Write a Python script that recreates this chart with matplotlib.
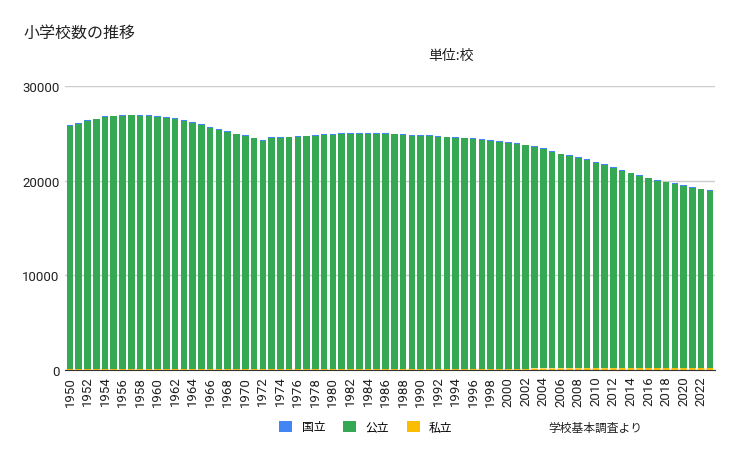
import numpy as np
import matplotlib
matplotlib.use('Agg')
import matplotlib.pyplot as plt

plt.rcParams['font.family'] = ['Noto Sans CJK JP', 'DejaVu Sans']

years = list(range(1950, 2024))
total = [25878, 26056, 26377, 26555, 26804, 26880, 26957, 26988, 26964, 26916,
         26858, 26741, 26615, 26423, 26210, 25977, 25687, 25487, 25262, 24980,
         24790, 24540, 24325, 24592, 24606, 24650, 24717, 24777, 24828, 24899,
         24945, 25005, 25043, 25045, 25064, 25040, 25020, 24982, 24901, 24851,
         24827, 24798, 24730, 24676, 24635, 24548, 24482, 24376, 24295, 24188,
         24106, 23964, 23808, 23633, 23420, 23123, 22878, 22693, 22476, 22258,
         22000, 21721, 21460, 21131, 20852, 20601, 20313, 20095, 19892, 19738,
         19525, 19336, 19161, 18980]
kokuritsu = [56, 60, 64, 68, 70, 71, 71, 71, 72, 72,
             72, 72, 72, 72, 72, 72, 72, 72, 72, 72,
             73, 73, 73, 73, 73, 73, 73, 73, 73, 73,
             73, 73, 73, 73, 73, 73, 73, 73, 73, 73,
             73, 73, 73, 73, 73, 73, 73, 73, 73, 73,
             73, 73, 73, 73, 73, 73, 73, 73, 73, 74,
             74, 74, 74, 74, 72, 72, 70, 70, 70, 69,
             69, 68, 68, 67]
shiritsu = [126, 128, 131, 133, 134, 135, 137, 139, 141, 143,
            145, 146, 146, 145, 143, 142, 141, 140, 139, 138,
            136, 136, 137, 154, 156, 158, 160, 161, 163, 165,
            168, 168, 168, 168, 169, 169, 170, 170, 170, 170,
            170, 170, 171, 171, 171, 171, 172, 172, 172, 172,
            172, 173, 175, 178, 181, 187, 194, 201, 206, 210,
            213, 213, 216, 220, 222, 222, 230, 231, 231, 237,
            237, 240, 243, 244]
kouritsu = [t - k - s for t, k, s in zip(total, kokuritsu, shiritsu)]

c_koku = '#4285f4'
c_kou = '#34a853'
c_shi = '#fbbc04'

fig = plt.figure(figsize=(7.38, 4.56), dpi=100)
ax = fig.add_axes([0.088, 0.186, 0.881, 0.623])
ax.set_axisbelow(True)

x = np.array(years)
ax.bar(x, shiritsu, width=0.75, color=c_shi, label='私立', zorder=3, snap=False)
ax.bar(x, kouritsu, width=0.75, bottom=shiritsu, color=c_kou, label='公立', zorder=3)
bottom2 = [s + k for s, k in zip(shiritsu, kouritsu)]
ax.bar(x, kokuritsu, width=0.75, bottom=bottom2, color=c_koku, label='国立', zorder=3)

ax.set_xlim(1949.43, 2023.6)
ax.set_ylim(0, 30000)
ax.set_yticks([0, 10000, 20000, 30000])
ax.set_yticklabels(['0', '10000', '20000', '30000'], fontsize=9.5,
                   family=['Roboto', 'DejaVu Sans'], color='#222222')
ax.set_xticks(years[::2])
ax.set_xticklabels([str(y) for y in years[::2]], rotation=90, fontsize=9.5,
                   family=['Roboto', 'DejaVu Sans'], color='#222222')
ax.tick_params(length=0, pad=4)
ax.grid(axis='y', color='#cccccc', linewidth=1)
for s in ['top', 'right', 'left']:
    ax.spines[s].set_visible(False)
ax.spines['bottom'].set_color('#333333')
ax.spines['bottom'].set_zorder(4)

fig.text(24 / 738, 1 - 33 / 456, '小学校数の推移', fontsize=11.5, va='center', ha='left', color='#222222')
fig.text(428 / 738, 1 - 56 / 456, '単位:校', fontsize=10, va='center', ha='left', color='#222222')
fig.text(548 / 738, 1 - 428 / 456, '学校基本調査より', fontsize=8.5, va='center', ha='left', color='#222222')

handles, labels = ax.get_legend_handles_labels()
order = [2, 1, 0]
fig.legend([handles[i] for i in order], [labels[i] for i in order],
           loc='center', bbox_to_anchor=(366 / 738, 1 - 428 / 456), ncol=3,
           frameon=False, fontsize=8.5, handlelength=1.1, handleheight=1.1,
           columnspacing=1.5, handletextpad=0.8)

plt.savefig('out.png', dpi=100)
plt.close()
